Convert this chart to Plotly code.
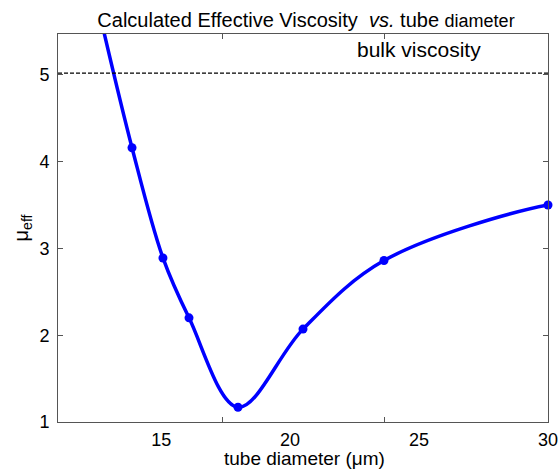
import plotly.graph_objects as go

# data
curve_x = [12.5, 13.87, 15.07, 16.08, 17.98, 20.5, 23.64, 30.0, 31.5]
curve_y = [5.85, 4.16, 2.89, 2.20, 1.17, 2.07, 2.86, 3.50, 3.52]
marker_x = [13.87, 15.07, 16.08, 17.98, 20.5, 23.64, 30.0]
marker_y = [4.16, 2.89, 2.20, 1.17, 2.07, 2.86, 3.50]
bulk_viscosity = 5.02
x_tick_labels = [15, 20, 25, 30]
x_tick_marks = [17.36, 23.67]
y_ticks = [1, 2, 3, 4, 5]

FONT = "Liberation Sans, Arial, sans-serif"
BLUE = "#0000ff"
AX = "#555555"

W, H = 558, 469
ML, MR, MT, MB = 58, 10, 34, 47
pw, ph = W - ML - MR, H - MT - MB

fig = go.Figure()
fig.add_trace(go.Scatter(x=curve_x, y=curve_y, mode="lines",
                         line=dict(color=BLUE, width=3.5, shape="spline", smoothing=1.0),
                         showlegend=False, hoverinfo="skip"))
fig.add_trace(go.Scatter(x=marker_x, y=marker_y, mode="markers",
                         marker=dict(color=BLUE, size=9),
                         showlegend=False, cliponaxis=False))
fig.add_trace(go.Scatter(x=[11, 30], y=[bulk_viscosity, bulk_viscosity], mode="lines",
                         line=dict(color="black", width=1.3, dash="4px,2px"),
                         showlegend=False, hoverinfo="skip"))
# invisible trace for tick-mark axis
fig.add_trace(go.Scatter(x=[11, 30], y=[1, 1], xaxis="x2", mode="lines",
                         line=dict(width=0), showlegend=False, hoverinfo="skip"))

fig.update_layout(
    width=W, height=H,
    margin=dict(l=ML, r=MR, t=MT, b=MB),
    paper_bgcolor="white", plot_bgcolor="white",
    font=dict(family=FONT, color="black", size=18),
    title=dict(text="Calculated Effective Viscosity  <i>vs.</i> tube <span style='font-size:18px'>diameter</span>",
               x=(91 + 521) / 2 / W, xanchor="center", y=1 - 20 / H, yanchor="middle",
               font=dict(family=FONT, size=20, color="black")),
    xaxis=dict(range=[11, 30], tickvals=x_tick_labels, ticks="", showgrid=False, zeroline=False,
               showline=True, linecolor=AX, linewidth=1, mirror=True, automargin=False,
               tickfont=dict(size=18), ticklabelstandoff=1, ticklabeloverflow="allow"),
    xaxis2=dict(range=[11, 30], overlaying="x", side="bottom", tickvals=x_tick_marks,
                showticklabels=False, ticks="inside", ticklen=5, tickcolor=AX, automargin=False,
                showgrid=False, zeroline=False, showline=False, mirror="ticks"),
    yaxis=dict(range=[1, 5.47], tickvals=y_ticks, ticks="inside", ticklen=5, tickcolor=AX,
               showgrid=False, zeroline=False, showline=True, linecolor=AX, linewidth=1,
               mirror="ticks", tickfont=dict(size=18), ticklabelstandoff=4, automargin=False,
               title=dict(text="μ<sub>eff</sub>", font=dict(size=20), standoff=5)),
    annotations=[
        dict(text="bulk viscosity", x=(419 - ML) / pw, y=(H - MB - 50) / ph,
             xref="paper", yref="paper", showarrow=False, xanchor="center", yanchor="middle",
             font=dict(family=FONT, size=21, color="black")),
        dict(text="tube diameter (μm)", x=(304 - ML) / pw, y=(H - MB - 458) / ph,
             xref="paper", yref="paper", showarrow=False, xanchor="center", yanchor="middle",
             font=dict(family=FONT, size=19, color="black")),
    ],
)

fig.write_html("out.html")
